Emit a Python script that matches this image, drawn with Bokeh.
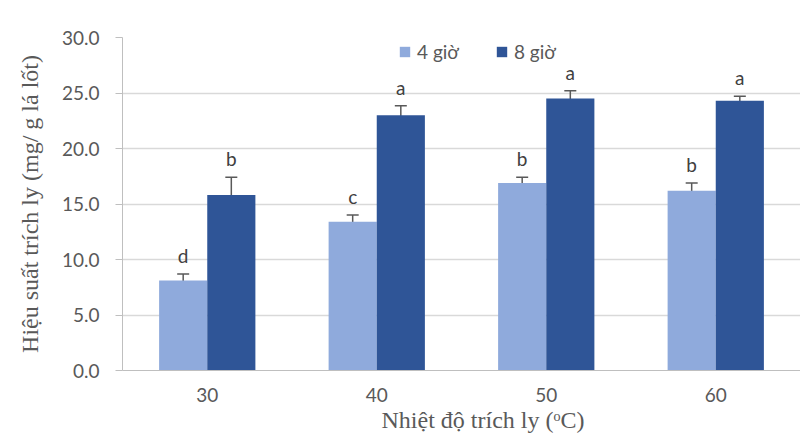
from bokeh.plotting import figure
from bokeh.models import (ColumnDataSource, FactorRange, Whisker, TeeHead, LabelSet, Title,
                          Legend, LegendItem, SingleIntervalTicker, NumeralTickFormatter, Range1d)
from bokeh.transform import dodge
from bokeh.core.properties import value
from bokeh.embed import file_html
from bokeh.resources import INLINE

temps = ["30", "40", "50", "60"]
y4 = [8.1, 13.4, 16.9, 16.2]
y8 = [15.8, 23.0, 24.5, 24.3]
e4 = [0.6, 0.6, 0.5, 0.7]
e8 = [1.6, 0.85, 0.7, 0.4]
l4 = ["d", "c", "b", "b"]
l8 = ["b", "a", "a", "a"]
series = ["4 giờ", "8 giờ"]
x_title = "Nhiệt độ trích ly (ᵒC)"
y_title = "Hiệu suất trích ly (mg/ g lá lốt)"

c4 = "#8FAADC"
c8 = "#2F5597"
ERR = "#595959"
TXT = "#595959"
SANS = "Lato"
SERIF = "Liberation Serif"

src = ColumnDataSource(dict(
    t=temps, y4=y4, y8=y8,
    u4=[v + e for v, e in zip(y4, e4)], d4=[v - e for v, e in zip(y4, e4)],
    u8=[v + e for v, e in zip(y8, e8)], d8=[v - e for v, e in zip(y8, e8)],
    l4=l4, l8=l8,
))

p = figure(x_range=FactorRange(*temps, range_padding=0, factor_padding=0),
           y_range=Range1d(0, 30),
           width=800, height=438, output_backend="svg", toolbar_location=None,
           min_border_left=122, min_border_right=0, min_border_top=37, min_border_bottom=68)
p.outline_line_color = None
p.background_fill_color = "white"
p.border_fill_color = "white"

W = 0.284
off = 0.142
r4 = p.vbar(x=dodge("t", -off, range=p.x_range), top="y4", width=W, source=src,
            fill_color=c4, line_color=None)
r8 = p.vbar(x=dodge("t", off, range=p.x_range), top="y8", width=W, source=src,
            fill_color=c8, line_color=None)

for base_off, up, lo in ((-off, "u4", "d4"), (off, "u8", "d8")):
    w = Whisker(source=src, base=dodge("t", base_off, range=p.x_range), upper=up, lower=lo,
                line_color=ERR, line_width=1.5,
                upper_head=TeeHead(size=12, line_color=ERR, line_width=1.5),
                lower_head=TeeHead(size=12, line_color=ERR, line_width=1.5))
    p.add_layout(w)

for base_off, up, lab in ((-off, "u4", "l4"), (off, "u8", "l8")):
    ls = LabelSet(x=dodge("t", base_off, range=p.x_range), y=up, text=lab, source=src,
                  y_offset=11, text_align="center", text_baseline="alphabetic",
                  text_font=value(SANS), text_font_size="19px", text_color="#404040")
    p.add_layout(ls)

# axes
p.yaxis.ticker = SingleIntervalTicker(interval=5)
p.yaxis.formatter = NumeralTickFormatter(format="0.0")
p.yaxis.axis_line_color = "#BFBFBF"
p.yaxis.major_tick_line_color = "#BFBFBF"
p.yaxis.major_tick_out = 7
p.yaxis.major_tick_in = 0
p.yaxis.minor_tick_line_color = None
p.yaxis.major_label_standoff = 16
p.yaxis.major_label_text_font = SANS
p.yaxis.major_label_text_font_size = "19px"
p.yaxis.major_label_text_color = TXT
p.yaxis.axis_label = y_title
p.yaxis.axis_label_text_font = SERIF
p.yaxis.axis_label_text_font_size = "24px"
p.yaxis.axis_label_text_font_style = "normal"
p.yaxis.axis_label_text_color = TXT
p.yaxis.axis_label_standoff = 16

p.xaxis.axis_line_color = "#BFBFBF"
p.xaxis.major_tick_line_color = None
p.xaxis.major_tick_out = 0
p.xaxis.major_tick_in = 0
p.xaxis.major_label_standoff = 17
p.xaxis.major_label_text_font = SANS
p.xaxis.major_label_text_font_size = "19px"
p.xaxis.major_label_text_color = TXT

p.xgrid.grid_line_color = None
p.ygrid.grid_line_color = "#D9D9D9"
p.ygrid.grid_line_width = 1.3

# x-axis title as a Title in the "below" panel, placed right of centre like the reference
p.add_layout(Title(text=x_title, align="left", offset=259, standoff=0,
                   text_font=SERIF, text_font_size="24px", text_font_style="normal",
                   text_color=TXT), "below")

legend = Legend(items=[LegendItem(label=series[0], renderers=[r4]),
                       LegendItem(label=series[1], renderers=[r8])],
                orientation="horizontal", location=(276, 307),
                glyph_width=13, glyph_height=13, label_standoff=6, spacing=36,
                padding=0, margin=0, border_line_color=None,
                label_text_font=SANS, label_text_font_size="19px", label_text_color=TXT)
p.add_layout(legend)

open("out.html", "w").write(file_html(p, INLINE))
